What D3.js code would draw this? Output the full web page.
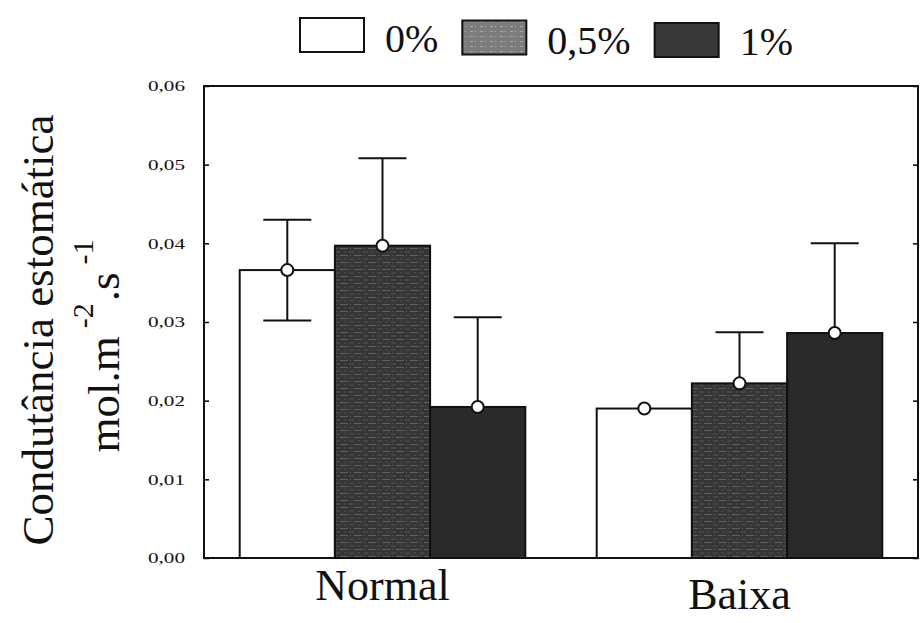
<!DOCTYPE html>
<html>
<head>
<meta charset="utf-8">
<script src="https://cdn.jsdelivr.net/npm/d3@7"></script>
<style>
  body { margin: 0; background: #fff; }
  text { font-family: "Liberation Serif", "Times New Roman", serif; fill: #111; }
</style>
</head>
<body>
<svg id="chart" width="922" height="623"></svg>
<script>
// data
var groups = ["Normal", "Baixa"];
var series = ["0%", "0,5%", "1%"];
var normalMeans = [0.0366, 0.0397, 0.0192];
var normalErrors = [0.0064, 0.0111, 0.0114];
var baixaMeans = [0.0190, 0.0222, 0.0286];
var baixaErrors = [0.0000, 0.0065, 0.0114];
var yTicks = [0, 0.01, 0.02, 0.03, 0.04, 0.05, 0.06];

var means = [normalMeans, baixaMeans];
var errors = [normalErrors, baixaErrors];

var serif = "'Liberation Serif', 'Times New Roman', serif";

var svg = d3.select("#chart"),
    margin = {top: 86, right: 4, bottom: 65, left: 204},
    width = +svg.attr("width") - margin.left - margin.right,
    height = +svg.attr("height") - margin.top - margin.bottom;

// fills (0,5% gets a speckled look like the scan)
var defs = svg.append("defs");
var pat = defs.append("pattern")
    .attr("id", "speckle")
    .attr("patternUnits", "userSpaceOnUse")
    .attr("width", 14).attr("height", 7);
pat.append("rect").attr("width", 14).attr("height", 7).attr("fill", "#363636");
pat.append("line").attr("x1", 0).attr("x2", 14).attr("y1", 1.5).attr("y2", 1.5)
    .attr("stroke", "#606060").attr("stroke-width", 1).attr("stroke-dasharray", "4,2,1,3");
pat.append("line").attr("x1", 0).attr("x2", 14).attr("y1", 5).attr("y2", 5)
    .attr("stroke", "#525252").attr("stroke-width", 1).attr("stroke-dasharray", "2,3,5,4");

var legPat = defs.append("pattern")
    .attr("id", "speckleLight")
    .attr("patternUnits", "userSpaceOnUse")
    .attr("width", 10).attr("height", 5);
legPat.append("rect").attr("width", 10).attr("height", 5).attr("fill", "#7c7c7c");
legPat.append("line").attr("x1", 0).attr("x2", 10).attr("y1", 1.5).attr("y2", 1.5)
    .attr("stroke", "#a8a8a8").attr("stroke-width", 1).attr("stroke-dasharray", "3,2,1,4");

var barFill = ["none", "url(#speckle)", "#2a2a2a"];
var legendFill = ["#fff", "url(#speckleLight)", "#383838"];

var g = svg.append("g")
    .attr("transform", "translate(" + margin.left + "," + margin.top + ")");

// scales
var x0 = d3.scaleBand().domain(groups).range([0, width])
    .paddingInner(0.2).paddingOuter(0.1);
var x1 = d3.scaleBand().domain(series).range([0, x0.bandwidth()]);
var y = d3.scaleLinear().domain([0, 0.06]).range([height, 0]);

var fmt = function(d) { return d3.format(".2f")(d).replace(".", ","); };

// axes
var yAxis = g.append("g")
    .call(d3.axisLeft(y).tickValues(yTicks).tickFormat(fmt)
      .tickSizeInner(-5).tickSizeOuter(0).tickPadding(19));
yAxis.attr("font-family", serif);
yAxis.select(".domain").remove();
yAxis.selectAll("text")
    .attr("font-size", 15)
    .attr("textLength", 37)
    .attr("lengthAdjust", "spacingAndGlyphs");
yAxis.selectAll("line").attr("stroke-width", 1.5);

var yAxisR = g.append("g")
    .attr("transform", "translate(" + width + ",0)")
    .call(d3.axisRight(y).tickValues(yTicks).tickFormat("").tickSizeInner(-5).tickSizeOuter(0));
yAxisR.select(".domain").remove();
yAxisR.selectAll("line").attr("stroke-width", 1.5);

// build flat list of bars
var bars = [];
groups.forEach(function(grp, gi) {
  series.forEach(function(s, si) {
    bars.push({group: grp, series: s, si: si, mean: means[gi][si], err: errors[gi][si]});
  });
});

var cap = 24;

// error bars first so the dark bars cover the lower whiskers
var eb = g.append("g").selectAll("g").data(bars).join("g")
    .attr("transform", function(d) { return "translate(" + (x0(d.group) + x1(d.series) + x1.bandwidth() / 2) + ",0)"; })
    .attr("stroke", "#111").attr("stroke-width", 2);
eb.filter(function(d) { return d.err > 0; }).append("line")
    .attr("y1", function(d) { return y(d.mean - d.err); })
    .attr("y2", function(d) { return y(d.mean + d.err); });
eb.filter(function(d) { return d.err > 0; }).append("line")
    .attr("x1", -cap).attr("x2", cap)
    .attr("y1", function(d) { return y(d.mean + d.err); })
    .attr("y2", function(d) { return y(d.mean + d.err); });
eb.filter(function(d) { return d.err > 0; }).append("line")
    .attr("x1", -cap).attr("x2", cap)
    .attr("y1", function(d) { return y(d.mean - d.err); })
    .attr("y2", function(d) { return y(d.mean - d.err); });

// bars
g.append("g").selectAll("rect").data(bars).join("rect")
    .attr("x", function(d) { return x0(d.group) + x1(d.series); })
    .attr("y", function(d) { return y(d.mean); })
    .attr("width", x1.bandwidth())
    .attr("height", function(d) { return height - y(d.mean); })
    .attr("fill", function(d) { return barFill[d.si]; })
    .attr("stroke", "#111")
    .attr("stroke-width", 2);

// mean markers
g.append("g").selectAll("circle").data(bars).join("circle")
    .attr("cx", function(d) { return x0(d.group) + x1(d.series) + x1.bandwidth() / 2; })
    .attr("cy", function(d) { return y(d.mean); })
    .attr("r", 6)
    .attr("fill", "#fff")
    .attr("stroke", "#111")
    .attr("stroke-width", 2);

// frame
g.append("rect")
    .attr("width", width).attr("height", height)
    .attr("fill", "none").attr("stroke", "#111").attr("stroke-width", 2);

// category labels
g.append("g").selectAll("text").data(groups).join("text")
    .attr("x", function(d) { return x0(d) + x0.bandwidth() / 2; })
    .attr("y", function(d, i) { return height + 42 + i * 9; })
    .attr("text-anchor", "middle")
    .attr("font-family", serif)
    .attr("font-size", 44)
    .text(function(d) { return d; });

// y title
svg.append("text")
    .attr("transform", "translate(53,330) rotate(-90)")
    .attr("text-anchor", "middle")
    .attr("font-family", serif)
    .attr("font-size", 45)
    .text("Condutância estomática");
var t2 = svg.append("text")
    .attr("transform", "translate(119,346) rotate(-90)")
    .attr("text-anchor", "middle")
    .attr("font-family", serif)
    .attr("font-size", 45);
t2.append("tspan").text("mol.m");
t2.append("tspan").attr("dx", 8).attr("dy", -26).attr("font-size", 30).text("-2");
t2.append("tspan").attr("dx", 2).attr("dy", 26).text(".s");
t2.append("tspan").attr("dx", 8).attr("dy", -26).attr("font-size", 30).text("-1");

// legend
var legend = svg.append("g").attr("transform", "translate(300,0)");
var lx = 0;
series.forEach(function(s, i) {
  legend.append("rect")
    .attr("x", lx).attr("y", 18 + i * 2.5)
    .attr("width", 64).attr("height", 34)
    .attr("fill", legendFill[i])
    .attr("stroke", "#111").attr("stroke-width", 2);
  var txt = legend.append("text")
    .attr("x", lx + 85).attr("y", 52 + i * 1.5)
    .attr("font-family", serif)
    .attr("font-size", 40)
    .text(s);
  lx = lx + 85 + txt.node().getComputedTextLength() + 24;
});
</script>
</body>
</html>
